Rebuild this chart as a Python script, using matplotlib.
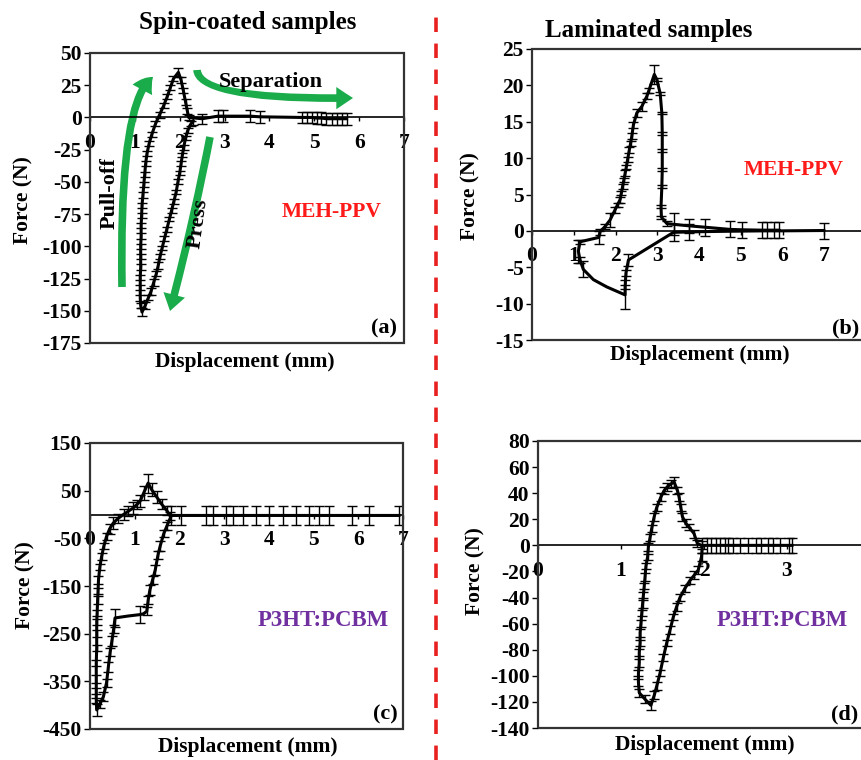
import numpy as np
import matplotlib
matplotlib.use('Agg')
import matplotlib.pyplot as plt
from matplotlib.patches import Rectangle, FancyArrowPatch
from matplotlib.path import Path
from matplotlib.lines import Line2D

plt.rcParams['font.family'] = ['Liberation Serif', 'DejaVu Serif']
plt.rcParams['font.weight'] = 'bold'
plt.rcParams['axes.unicode_minus'] = False

W, H = 861, 760

# ---------------- (a) spin-coated MEH-PPV ----------------
xa = [2.30, 2.25, 2.18, 2.13, 2.09, 2.06, 2.03, 2.00, 1.96, 1.92, 1.87, 1.82, 1.77, 1.71, 1.66, 1.61, 1.56, 1.52, 1.48, 1.42, 1.36, 1.30, 1.23, 1.16,
      1.13, 1.12, 1.12, 1.12, 1.13, 1.13, 1.13, 1.14, 1.14, 1.15, 1.16, 1.18, 1.20, 1.22, 1.24, 1.27, 1.32, 1.38, 1.46, 1.55, 1.64, 1.72, 1.79, 1.86, 1.97,
      2.03, 2.08, 2.13, 2.17, 2.20, 2.50, 2.85, 2.97, 3.57, 3.79, 4.72, 4.83, 4.94, 5.05, 5.16, 5.27, 5.39, 5.50, 5.61, 5.72]
ya = [-3, -5, -10, -16, -23, -29, -36, -43, -50, -58, -65, -72, -79, -87, -94, -101, -108, -115, -121, -128, -135, -140, -146, -151,
      -146, -140, -132, -124, -116, -108, -100, -92, -84, -76, -68, -60, -52, -44, -36, -28, -20, -13, -5, 2, 9, 16, 23, 30, 35,
      29, 21, 12, 5, 0, -1, 1, 1, 1, 0.5, 0, 0, 0, -0.5, -0.5, -1, -1, -1, -1, -1]
ea = [3, 2, 2, 1.5, 2, 1.5, 2, 1.5, 2, 1.5, 2, 2, 1.5, 2, 2, 1.5, 2, 2.5, 2, 2.5, 3, 2, 2.5, 3,
      2, 2.5, 2, 2, 2.5, 2, 2, 2.5, 2, 2, 2, 2.5, 2, 2, 2, 2, 2, 2, 2, 2.5, 2, 2, 2, 2, 3.5,
      2.5, 2, 2, 2, 2, 4, 4.5, 4.5, 4.5, 4.5, 4.5, 4.5, 4.5, 4.5, 4.5, 4.5, 4.5, 4.5, 4.5, 4.5]

# ---------------- (b) laminated MEH-PPV ----------------
xb = [6.99, 5.91, 5.51, 4.75, 4.15, 3.75, 3.39,
      2.31, 2.25, 2.23, 2.23, 1.79, 1.47, 1.23, 1.15, 1.11, 1.15, 1.60, 1.63, 1.75, 1.87, 1.99, 2.05, 2.11, 2.14, 2.17, 2.20,
      2.23, 2.26, 2.29, 2.33, 2.36, 2.39, 2.43, 2.51, 2.63, 2.75, 2.80, 2.93,
      2.99, 3.07, 3.11, 3.12, 3.12, 3.12, 3.11, 3.09, 3.10, 3.23, 3.39, 3.75, 4.15, 4.75, 5.03, 5.51, 5.63, 5.79, 5.91]
yb = [0.05, 0.0, 0.0, -0.05, -0.1, -0.15, -0.2,
      -4.0, -5.8, -7.7, -8.8, -7.7, -6.7, -5.3, -4.0, -2.8, -1.5, -0.9, -0.1, 0.6, 1.5, 2.9, 3.6, 4.3, 5.2, 6.1, 7.0,
      7.9, 8.8, 9.8, 11.1, 12.0, 13.0, 14.6, 16.2, 17.1, 18.5, 19.3, 21.5,
      20.8, 18.9, 16.2, 13.4, 11.1, 8.4, 6.1, 3.3, 1.9, 1.0, 0.9, 0.7, 0.5, 0.2, 0.15, 0.1, 0.1, 0.1, 0.1]
eb = [1.1, 0, 0, 0, 0, 1.1, 1.2,
      0.8, 0.4, 0.3, 2.0, 0, 0, 1.1, 0.4, 1.6, 0.3, 0.9, 0.4, 0.4, 0.9, 0.4, 0.3, 0.4, 0.3, 0.4, 0.3,
      0.4, 0.3, 0.4, 0.4, 0.3, 0.4, 0.4, 0.6, 0.6, 0.4, 0.3, 1.3,
      0.2, 0.2, 0.2, 0.2, 0.2, 0.2, 0.2, 0.2, 0.2, 0.3, 1.5, 1.0, 1.2, 1.1, 1.1, 1.1, 1.1, 1.1, 1.1]

# ---------------- (c) spin-coated P3HT:PCBM ----------------
xc = [6.91, 6.24, 5.87, 5.35, 5.13, 4.90, 4.61, 4.31, 4.01, 3.72, 3.42, 3.19, 3.05, 2.75, 2.60, 2.04, 1.82,
      1.72, 1.65, 1.57, 1.52, 1.46, 1.40, 1.34, 1.30, 1.27, 1.20, 1.12, 0.85, 0.56, 0.53, 0.49, 0.45, 0.41, 0.37, 0.30, 0.22, 0.15,
      0.14, 0.14, 0.14, 0.14, 0.15, 0.15, 0.15, 0.16, 0.17, 0.18, 0.19, 0.22, 0.26, 0.31, 0.37, 0.44, 0.52, 0.63, 0.75, 0.86, 0.97,
      1.05, 1.12, 1.20, 1.30, 1.38, 1.49, 1.60, 1.72, 1.79]
yc = [-2, -2, -2, -2, -2, -2, -2, -2, -2, -2, -2, -2, -2, -2, -2, -2, -2,
      -24, -40, -66, -85, -116, -137, -158, -180, -203, -208, -210, -213, -217, -240, -265, -289, -320, -353, -382, -398, -410,
      -390, -370, -345, -311, -280, -250, -225, -206, -180, -160, -137, -110, -88, -66, -46, -30, -18, -8, 0, 7, 14,
      21, 28, 45, 66, 52, 37, 22, 8, -3]
ec = [20, 20, 20, 20, 20, 20, 20, 20, 20, 20, 20, 20, 20, 20, 20, 20, 20,
      8, 8, 10, 8, 10, 8, 10, 8, 8, 0, 18, 0, 18, 8, 10, 8, 10, 8, 10, 8, 12,
      6, 6, 8, 6, 6, 8, 6, 6, 8, 6, 8, 6, 8, 6, 8, 10, 12, 10, 12, 10, 12,
      10, 12, 14, 20, 14, 12, 10, 10, 8]

# ---------------- (d) laminated P3HT:PCBM ----------------
xd = [3.06, 3.02, 2.91, 2.83, 2.77, 2.69, 2.63, 2.53, 2.43, 2.35, 2.29, 2.25, 2.19, 2.15, 2.09, 2.04, 1.98,
      1.97, 1.93, 1.88, 1.83, 1.77, 1.71, 1.67, 1.63, 1.59, 1.55, 1.51, 1.47, 1.43, 1.40, 1.36,
      1.29, 1.22, 1.21, 1.21, 1.22, 1.22, 1.23, 1.23, 1.24, 1.25, 1.26, 1.27, 1.28, 1.29, 1.30, 1.32, 1.33, 1.35, 1.37, 1.40,
      1.43, 1.48, 1.52, 1.56, 1.60, 1.64,
      1.68, 1.70, 1.72, 1.74, 1.78, 1.82, 1.88, 1.92, 1.97]
yd = [0, 0, 0, 0, 0, 0, 0, 0, 0, 0, 0, 0, 0, 0, 0, 0, 0,
      -8.8, -19, -23, -27, -33, -40, -47, -55, -65, -75, -86, -98, -108, -115, -122.6,
      -118, -113, -105, -98, -90, -82, -75, -67, -60, -52, -45, -38, -31, -24, -16, -9, -1, 6, 13, 22,
      29, 37, 42, 45, 47, 48.6,
      42, 37, 29, 22, 17, 14, 9, 1.4, 0]
ed = [6, 6, 6, 6, 6, 6, 6, 6, 6, 6, 6, 6, 6, 6, 6, 6, 6,
      3, 3, 3, 2.5, 3, 2.5, 3, 2.5, 3, 2.5, 3, 2.5, 3, 3, 3.5,
      3, 3, 2.5, 2.5, 3, 2.5, 2.5, 3, 2.5, 2.5, 3, 2.5, 2.5, 3, 2.5, 2.5, 3, 2.5, 2.5, 3,
      2.5, 3, 3, 3, 3, 4,
      3, 3, 2.5, 3, 3, 2.5, 3, 2.5, 3]

fig = plt.figure(figsize=(W / 100, H / 100), dpi=100)


def add_ax(x0, y0, x1, y1):
    return fig.add_axes([x0 / W, 1 - y1 / H, (x1 - x0) / W, (y1 - y0) / H])


def ftext(px, py, s, **kw):
    kw.setdefault('ha', 'center')
    kw.setdefault('va', 'center')
    fig.text(px / W, 1 - py / H, s, **kw)


def draw(ax, x, y, e, xmax, ylo, yhi, ystep, xlab_max):
    x, y, e = np.array(x), np.array(y), np.array(e)
    ax.plot(x, y, color='black', lw=2.2, zorder=3, clip_on=False)
    m = e > 0
    ax.errorbar(x[m], y[m], yerr=e[m], fmt='none', ecolor='black',
                elinewidth=1, capsize=3.4, capthick=1, zorder=3)
    ax.set_xlim(0, xmax)
    ax.set_ylim(ylo, yhi)
    ax.set_xticks(range(0, xmax + 1))
    ax.set_xticklabels([str(i) if i <= xlab_max else '' for i in range(0, xmax + 1)])
    ax.set_yticks(np.arange(ylo, yhi + 1, ystep))
    for s in ['top', 'right', 'left']:
        ax.spines[s].set_visible(False)
    ax.spines['bottom'].set_position(('data', 0))
    ax.spines['bottom'].set_linewidth(1.2)
    ax.add_patch(Rectangle((0, 0), 1, 1, transform=ax.transAxes, fill=False,
                           lw=1.6, ec='#333333', clip_on=False, zorder=4))
    ax.tick_params(axis='x', direction='out', length=3, width=1, pad=8, labelsize=15.5)
    ax.tick_params(axis='y', direction='out', length=4, width=1, pad=2, labelsize=15.5)
    ax.patch.set_alpha(0)


ax_a = add_ax(90, 53, 404, 343)
draw(ax_a, xa, ya, ea, 7, -175, 50, 25, 7)
ax_b = add_ax(532, 49, 866, 340)
draw(ax_b, xb, yb, eb, 8, -15, 25, 5, 7)
ax_c = add_ax(90, 443, 403, 729)
draw(ax_c, xc, yc, ec, 7, -450, 150, 100, 7)
ax_d = add_ax(538, 441, 870, 728)
draw(ax_d, xd, yd, ed, 4, -140, 80, 20, 3)

# green process arrows on (a)
green = '#1aab4b'


def apath(p0, c, p1):
    f = lambda p: ((p[0] - 90) / 314, (343 - p[1]) / 290)
    return Path([f(p0), f(c), f(p1)], [Path.MOVETO, Path.CURVE3, Path.CURVE3])


style = 'simple,head_length=12,head_width=16,tail_width=5.5'
for p0, c, p1 in [((122, 287), (119, 100), (153, 77)),
                  ((210, 137), (194, 220), (170, 311)),
                  ((197, 70), (199, 100), (353, 98))]:
    ax_a.add_patch(FancyArrowPatch(path=apath(p0, c, p1), arrowstyle=style,
                                   mutation_scale=1, color=green, lw=0,
                                   transform=ax_a.transAxes, zorder=2, clip_on=False))

ftext(271, 82, 'Separation', fontsize=16, fontweight='bold')
ftext(110, 193, 'Pull-off', fontsize=16, fontweight='bold', rotation=90)
ftext(198, 223, 'Press', fontsize=16, fontweight='bold', rotation=82)

# labels
for px, py in [(245, 362), (700, 355), (248, 747), (705, 745)]:
    ftext(px, py, 'Displacement (mm)', fontsize=15.5, fontweight='bold')
for px, py in [(23, 200), (470, 196), (25, 585), (475, 571)]:
    ftext(px, py, 'Force (N)', fontsize=15.5, fontweight='bold', rotation=90)

ftext(332, 212, 'MEH-PPV', fontsize=15.5, fontweight='bold', color='#ff1a1a')
ftext(794, 170, 'MEH-PPV', fontsize=15.5, fontweight='bold', color='#ff1a1a')
ftext(323, 620, 'P3HT:PCBM', fontsize=16.5, fontweight='bold', color='#7030a0')
ftext(782, 620, 'P3HT:PCBM', fontsize=16.5, fontweight='bold', color='#7030a0')
for px, py, s in [(384, 328, '(a)'), (846, 328, '(b)'), (385, 714, '(c)'), (845, 714, '(d)')]:
    ftext(px, py, s, fontsize=16, fontweight='bold')

ftext(248, 22, 'Spin-coated samples', fontsize=18, fontweight='bold')
ftext(649, 30, 'Laminated samples', fontsize=18, fontweight='bold')

fig.add_artist(Line2D([436 / W, 436 / W], [0, 1 - 10 / H], transform=fig.transFigure,
                      color='#e82020', lw=2.6, dashes=(4, 3.2)))

fig.savefig('out.png', dpi=100)
